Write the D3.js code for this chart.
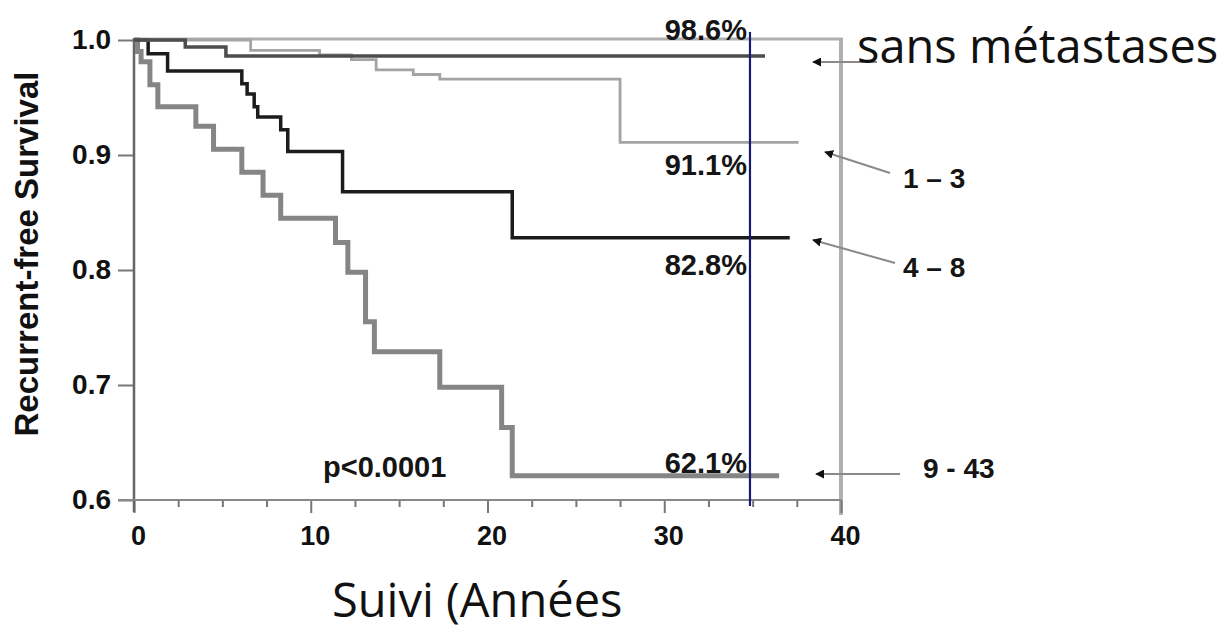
<!DOCTYPE html>
<html><head><meta charset="utf-8">
<script src="https://cdn.jsdelivr.net/npm/d3@7"></script>
<style>
html,body{margin:0;padding:0;background:#fff;}
svg{display:block;}
</style></head>
<body>
<svg id="chart" width="1227" height="630"></svg>
<script>
// ---- data ----
const groups = ["sans métastases", "1 – 3", "4 – 8", "9 - 43"];
const finalLabels = ["98.6%", "91.1%", "82.8%", "62.1%"];
const yTicks = [0.6, 0.7, 0.8, 0.9, 1.0];
const xTicks = [0, 10, 20, 30, 40];
const xMinorTicks = [0, 2.5, 5, 7.5, 10, 12.5, 15, 17.5, 20, 22.5, 25, 27.5, 30, 32.5, 35, 37.5, 40];
const pValue = "p<0.0001";
const xTitle = "Suivi (Années";
const yTitle = "Recurrent-free Survival";
const referenceYear = 34.85;

const timesNoMet = [0, 2.9, 5.2, 35.7];
const survNoMet  = [1.0, 0.994, 0.986, 0.986];

const times13 = [0, 6.6, 10.5, 12.3, 13.7, 15.8, 17.3, 27.5, 37.6];
const surv13  = [1.0, 0.991, 0.987, 0.983, 0.974, 0.970, 0.966, 0.911, 0.911];

const times48 = [0, 0.8, 1.9, 6.1, 6.4, 6.8, 7.0, 8.3, 8.7, 11.8, 21.4, 37.1];
const surv48  = [1.0, 0.988, 0.973, 0.962, 0.953, 0.942, 0.933, 0.922, 0.903, 0.868, 0.828, 0.828];

const times943 = [0, 0.2, 0.4, 0.9, 1.35, 3.5, 4.5, 6.1, 7.3, 8.3, 11.4, 12.1, 13.1, 13.6, 17.3, 20.8, 21.4, 36.5];
const surv943  = [1.0, 0.990, 0.981, 0.961, 0.942, 0.925, 0.905, 0.885, 0.865, 0.845, 0.824, 0.798, 0.755, 0.729, 0.698, 0.663, 0.621, 0.621];

// ---- chart ----
const svg = d3.select("#chart");
const x = d3.scaleLinear().domain([0, 40]).range([134, 841]);
const y = d3.scaleLinear().domain([0.6, 1.0]).range([500, 40]);

const boldFont = "'Liberation Sans', Arial, sans-serif";
const humanFont = "'Open Sans', 'DejaVu Sans', sans-serif";

// frame (top and right, light gray)
svg.append("line").attr("x1", x(0)).attr("x2", x(40)+2).attr("y1", y(1.0)-1).attr("y2", y(1.0)-1)
  .attr("stroke", "#b0b0b0").attr("stroke-width", 3);
svg.append("line").attr("x1", x(40)).attr("x2", x(40)).attr("y1", y(1.0)-2).attr("y2", y(0.6)+15)
  .attr("stroke", "#b0b0b0").attr("stroke-width", 4);

// y axis
const yAxis = svg.append("g").attr("transform", `translate(${x(0)},0)`)
  .call(d3.axisLeft(y).tickValues(yTicks).tickSize(16).tickPadding(7).tickFormat(d3.format(".1f")));
yAxis.select(".domain").remove();
yAxis.selectAll(".tick line").attr("stroke", "#777").attr("stroke-width", 2);
yAxis.selectAll(".tick text").attr("font-family", boldFont).attr("font-weight", "bold")
  .attr("font-size", 28).attr("fill", "#111");

// x axis
const xAxis = svg.append("g").attr("transform", `translate(0,${y(0.6)})`)
  .call(d3.axisBottom(x).tickValues(xMinorTicks).tickSize(6).tickFormat(""));
xAxis.select(".domain").remove();
xAxis.selectAll(".tick line").attr("stroke", "#777").attr("stroke-width", 2)
  .attr("y2", d => (d % 10 === 0 ? 13 : 7));
const xLab = svg.append("g").attr("transform", `translate(0,${y(0.6)})`)
  .call(d3.axisBottom(x).tickValues(xTicks).tickSize(0).tickPadding(26).tickFormat(d3.format("d")));
xLab.select(".domain").remove();
xLab.selectAll(".tick text").attr("font-family", boldFont).attr("font-weight", "bold")
  .attr("font-size", 27).attr("fill", "#111").attr("dx", 4);

// axis lines
svg.append("line").attr("x1", x(0)).attr("x2", x(0)).attr("y1", y(1.0)-2).attr("y2", y(0.6)+12)
  .attr("stroke", "#666").attr("stroke-width", 2.5);
svg.append("line").attr("x1", x(0)-16).attr("x2", x(40)).attr("y1", y(0.6)).attr("y2", y(0.6))
  .attr("stroke", "#888").attr("stroke-width", 2);

// curves
const line = d3.line().x(d => x(d[0])).y(d => y(d[1])).curve(d3.curveStepAfter);
const zip = (t, s) => t.map((v, i) => [v, s[i]]);
const series = [
  {t: times943, s: surv943, color: "#858585", w: 5},
  {t: times48, s: surv48, color: "#1c1c1c", w: 3.5},
  {t: times13, s: surv13, color: "#a4a4a4", w: 2.8},
  {t: timesNoMet, s: survNoMet, color: "#4d4d4d", w: 3.5}
];
series.forEach(sr => {
  svg.append("path").attr("d", line(zip(sr.t, sr.s))).attr("fill", "none")
    .attr("stroke", sr.color).attr("stroke-width", sr.w).attr("stroke-linejoin", "miter");
});

// reference blue line
svg.append("line").attr("x1", x(referenceYear)).attr("x2", x(referenceYear))
  .attr("y1", 32).attr("y2", y(0.6)+6).attr("stroke", "#1a1a72").attr("stroke-width", 2.2);

// final percent labels
const finals = [survNoMet[survNoMet.length-1], surv13[surv13.length-1], surv48[surv48.length-1], surv943[surv943.length-1]];
const offs = [-16, 33, 37, -3];
finalLabels.forEach((lab, i) => {
  svg.append("text").attr("x", x(referenceYear) - 3).attr("y", y(finals[i]) + offs[i])
    .attr("text-anchor", "end").attr("font-family", boldFont).attr("font-weight", "bold")
    .attr("font-size", 29).attr("fill", "#151515").text(lab);
});

// p value
svg.append("text").attr("x", 323).attr("y", 477).attr("font-family", boldFont)
  .attr("font-weight", "bold").attr("font-size", 29).attr("fill", "#151515").text(pValue);

// arrows & group labels
const defs = svg.append("defs");
defs.append("marker").attr("id", "ah").attr("viewBox", "0 0 10 10").attr("refX", 1).attr("refY", 5)
  .attr("markerWidth", 9).attr("markerHeight", 9).attr("markerUnits", "userSpaceOnUse").attr("orient", "auto")
  .append("path").attr("d", "M10,0 L0,5 L10,10 Z").attr("fill", "#111");
const arrows = [
  {x1: 877, y1: 62, x2: 813, y2: 62},
  {x1: 890, y1: 173, x2: 825, y2: 152},
  {x1: 895, y1: 263, x2: 813, y2: 240},
  {x1: 900, y1: 474, x2: 816, y2: 474}
];
arrows.forEach(a => {
  svg.append("line").attr("x1", a.x2).attr("y1", a.y2).attr("x2", a.x1).attr("y2", a.y1)
    .attr("stroke", "#8a8a8a").attr("stroke-width", 2).attr("marker-start", "url(#ah)");
});

svg.append("text").attr("x", 857).attr("y", 63).attr("font-family", humanFont)
  .attr("font-size", 47).attr("fill", "#111").text(groups[0]);
const grpPos = [null, [903, 188], [903, 277], [923, 478]];
[1, 2, 3].forEach(i => {
  svg.append("text").attr("x", grpPos[i][0]).attr("y", grpPos[i][1]).attr("font-family", boldFont)
    .attr("font-weight", "bold").attr("font-size", 28).attr("fill", "#151515").text(groups[i]);
});

// axis titles
svg.append("text").attr("transform", "translate(38,254) rotate(-90)").attr("text-anchor", "middle")
  .attr("font-family", boldFont).attr("font-weight", "bold").attr("font-size", 33).attr("fill", "#111")
  .text(yTitle);
svg.append("text").attr("x", 332).attr("y", 617).attr("font-family", humanFont)
  .attr("font-size", 47).attr("fill", "#111").text(xTitle);
</script>
</body></html>
